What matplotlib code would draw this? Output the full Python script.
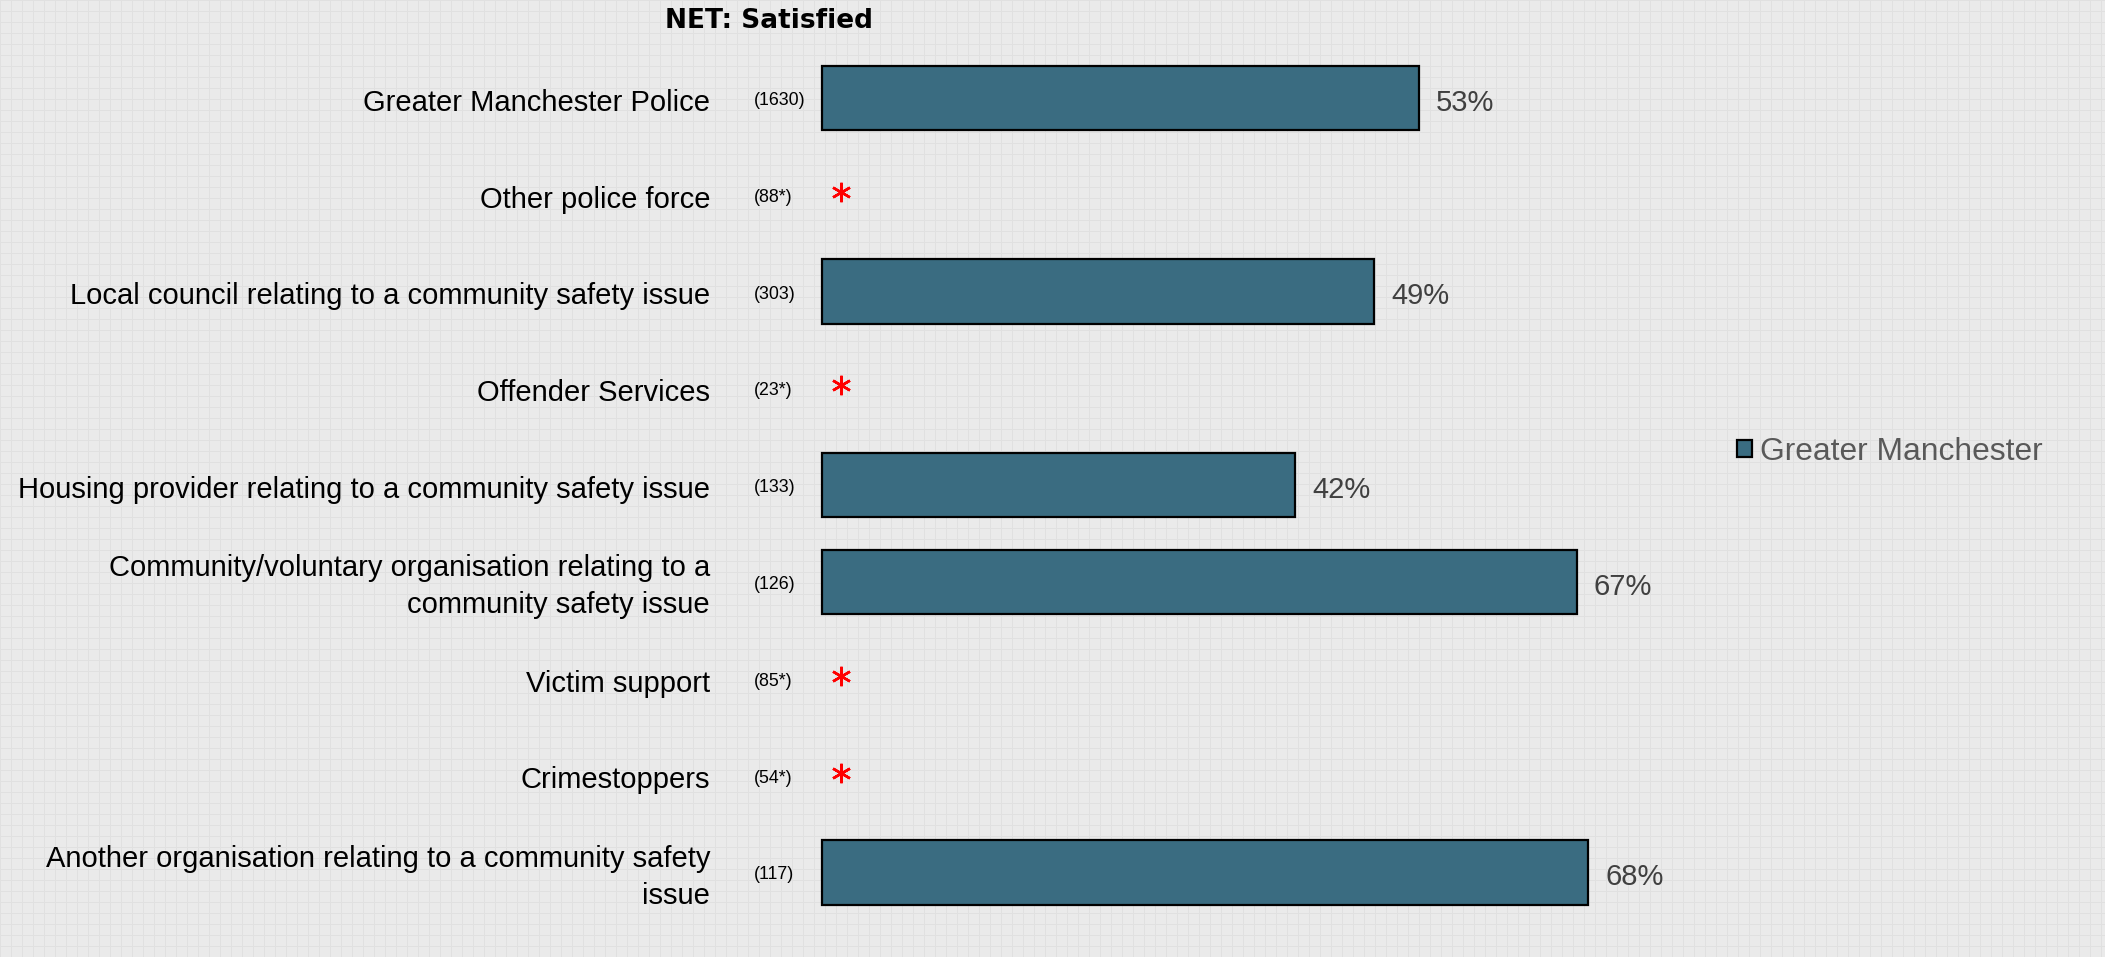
import matplotlib
matplotlib.use("Agg")
import matplotlib.pyplot as plt
import numpy as np

categories = [
    "Greater Manchester Police",
    "Other police force",
    "Local council relating to a community safety issue",
    "Offender Services",
    "Housing provider relating to a community safety issue",
    "Community/voluntary organisation relating to a\ncommunity safety issue",
    "Victim support",
    "Crimestoppers",
    "Another organisation relating to a community safety\nissue",
]
# NaN = base too small, value suppressed (shown as red asterisk)
values = [53, np.nan, 49, np.nan, 42, 67, np.nan, np.nan, 68]
bases = ["(1630)", "(88*)", "(303)", "(23*)", "(133)", "(126)", "(85*)", "(54*)", "(117)"]
series_name = "Greater Manchester"
title = "NET: Satisfied"

W, H, DPI = 2105, 957, 100
fig = plt.figure(figsize=(W / DPI, H / DPI), dpi=DPI)

# textured grey background
bg = fig.add_axes([0, 0, 1, 1])
tex = np.full((H, W), 0.915)
tex[::11, :] = 0.875
tex[:, ::11] = 0.875
bg.imshow(tex, cmap="gray", vmin=0, vmax=1, aspect="auto", interpolation="nearest")
bg.axis("off")

ax = fig.add_axes([0, 0, 1, 1])
ax.patch.set_alpha(0)
px_per_unit = 11.27
x0 = 822
ax.set_xlim(-x0 / px_per_unit, (W - x0) / px_per_unit)
row0, row_step = 98, 96.8
ax.set_ylim((H - row0) / row_step, -row0 / row_step)
ax.axis("off")

y = np.arange(len(categories))
vals = np.array(values, dtype=float)
ok = ~np.isnan(vals)
bars = ax.barh(y[ok], vals[ok], height=0.665, color="#3a6c81",
               edgecolor="black", linewidth=1.6, label=series_name)

font = "Liberation Sans"
lab_x = (710 - x0) / px_per_unit
base_x = (754 - x0) / px_per_unit
dy = 0.05
for i, cat in enumerate(categories):
    ax.text(lab_x, y[i] + dy, cat, ha="right", va="center", fontsize=21,
            family=font, color="black", linespacing=1.4)
    ax.text(base_x, y[i] + 0.025, bases[i], ha="left", va="center", fontsize=12.8,
            family=font, color="black")
    if np.isnan(vals[i]):
        ax.plot(1.7, y[i] - 0.03, marker=(6, 2, 0), color="red",
                markersize=14, mew=1.8)
    else:
        ax.annotate(f"{vals[i]:.0f}%", (vals[i], y[i] + dy), xytext=(12, 0),
                    textcoords="offset points", ha="left", va="center",
                    fontsize=21, family=font, color="#404040")

fig.text(769 / W, 1 - 21 / H, title, ha="center", va="center",
         fontsize=19, fontweight="bold", family="DejaVu Sans")

leg = fig.legend(handles=[bars], labels=[series_name], loc="center left",
                 bbox_to_anchor=(1737 / W, 1 - 452 / H), frameon=False,
                 borderpad=0, borderaxespad=0,
                 handlelength=0.47, handleheight=0.47, handletextpad=0.25,
                 prop={"family": font, "size": 22.9})
for t in leg.get_texts():
    t.set_color("#595959")

fig.savefig("out.png", dpi=DPI)
